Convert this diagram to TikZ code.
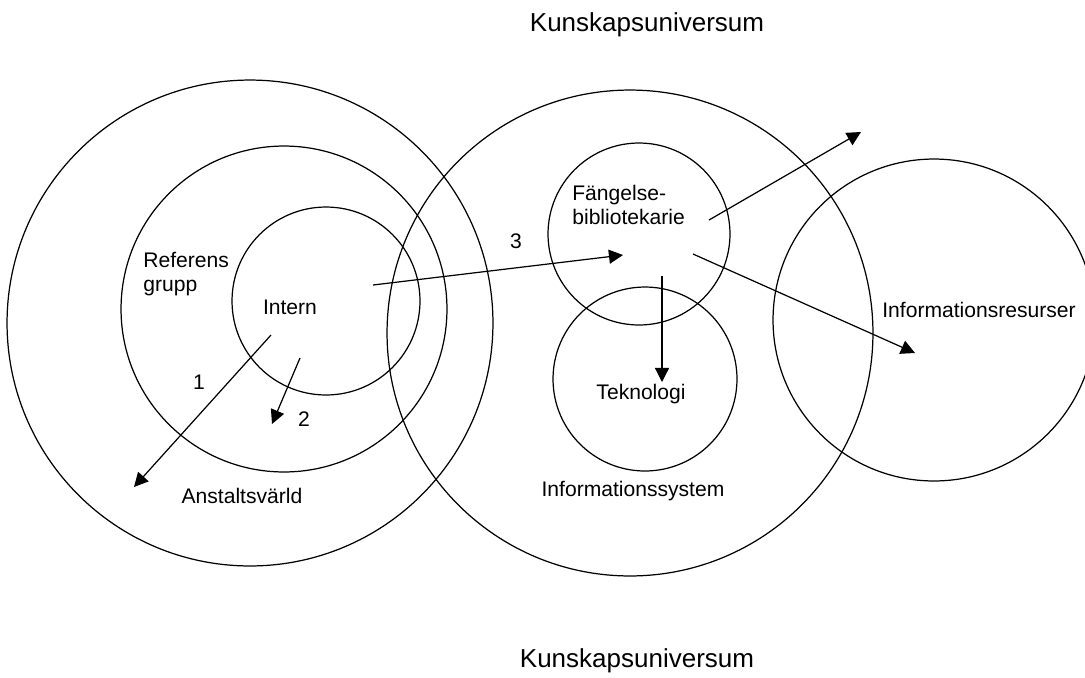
\documentclass[tikz,border=0pt]{standalone}
\usepackage{fontspec}
\setmainfont{Liberation Sans}
\usetikzlibrary{arrows.meta}

\tikzset{
    ring/.style={draw, circle, line width=0.7pt, inner sep=0pt},
    lbl/.style={inner sep=0pt, font=\fontsize{12}{14}\selectfont},
    pil/.style={line width=0.7pt, -{Triangle[length=8pt,width=8pt]}},
}

\begin{document}
\begin{tikzpicture}[x=0.02cm, y=-0.02cm]
    \clip (0,0) rectangle (1085,677);

    % circles
    \node[ring, minimum size=9.72cm] (varld) at (250,323) {};
    \node[ring, minimum size=6.52cm] (ref) at (284,309) {};
    \node[ring, minimum size=3.76cm] (intern) at (326,301) {};
    \node[ring, minimum size=9.72cm] (infsys) at (630,333) {};
    \node[ring, minimum size=3.64cm] (bibl) at (639,234) {};
    \node[ring, minimum size=3.68cm] (tekn) at (645,379) {};
    \node[ring, minimum size=6.44cm] (resurs) at (934,320) {};

    % texts
    \node[lbl, font=\fontsize{14.8}{17}\selectfont] (univtop) at (647,25) {Kunskapsuniversum};
    \node[lbl, font=\fontsize{14.8}{17}\selectfont] (univbot) at (637,661) {Kunskapsuniversum};
    \node[lbl, align=left, anchor=west] (reftxt) at (143,274) {Referens\\grupp};
    \node[lbl] (interntxt) at (290,307) {Intern};
    \node[lbl] (varldtxt) at (242,496) {Anstaltsvärld};
    \node[lbl, align=left, anchor=west] (bibltxt) at (572,205) {Fängelse-\\bibliotekarie};
    \node[lbl] (markn) at (641,394) {Teknologi};
    \node[lbl] (infsystxt) at (633,491) {Informationssystem};
    \node[lbl] (resurstxt) at (979,310) {Informationsresurser};
    \node[lbl] (n1) at (199,382) {1};
    \node[lbl] (n2) at (304,419) {2};
    \node[lbl] (n3) at (516,241) {3};

    % arrow ends
    \coordinate (a1s) at (271,335);
    \coordinate (a1e) at (134,487);
    \coordinate (a2s) at (300,358);
    \coordinate (a2e) at (272,424);
    \coordinate (a3s) at (373,285);
    \coordinate (a3e) at (623,255);
    \coordinate (a4s) at (709,220);
    \coordinate (a4e) at (861,132);
    \coordinate (a5s) at (693,254);
    \coordinate (a5e) at (915,353);
    \coordinate (a6s) at (662,276);
    \coordinate (a6e) at (662,382);

    \draw[pil] (a1s) -- (a1e);
    \draw[pil] (a2s) -- (a2e);
    \draw[pil] (a3s) -- (a3e);
    \draw[pil] (a4s) -- (a4e);
    \draw[pil] (a5s) -- (a5e);
    \draw[pil] (a6s) -- (a6e);
\end{tikzpicture}
\end{document}
